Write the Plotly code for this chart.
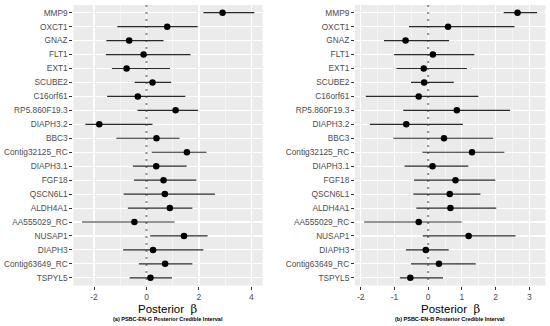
import plotly.graph_objects as go

genes = ["MMP9", "OXCT1", "GNAZ", "FLT1", "EXT1", "SCUBE2", "C16orf61",
         "RP5.860F19.3", "DIAPH3.2", "BBC3", "Contig32125_RC", "DIAPH3.1",
         "FGF18", "QSCN6L1", "ALDH4A1", "AA555029_RC", "NUSAP1", "DIAPH3",
         "Contig63649_RC", "TSPYL5"]

# Panel (a) PSBC-EN-G
a_mean = [2.90, 0.79, -0.66, -0.11, -0.76, 0.23, -0.33, 1.11, -1.80, 0.38,
          1.54, 0.37, 0.65, 0.70, 0.89, -0.46, 1.43, 0.25, 0.71, 0.15]
a_low = [2.17, -1.11, -1.53, -1.55, -1.32, -0.45, -1.50, -0.34, -2.33, -1.15,
         0.20, -0.52, -0.48, -0.87, -0.71, -2.46, 0.14, -0.89, -0.29, -0.64]
a_high = [4.11, 1.95, 0.65, 1.68, 0.90, 0.94, 1.48, 1.96, 0.23, 1.26,
          2.29, 1.53, 1.90, 2.61, 1.75, 1.07, 2.33, 2.17, 1.75, 0.97]

# Panel (b) PSBC-EN-B
b_mean = [2.65, 0.59, -0.67, 0.14, -0.13, -0.12, -0.28, 0.85, -0.65, 0.47,
          1.30, 0.13, 0.81, 0.64, 0.66, -0.28, 1.20, -0.07, 0.32, -0.53]
b_low = [2.24, -0.57, -1.31, -1.01, -0.94, -0.51, -1.85, -0.74, -1.73, -1.03,
         -0.17, -0.70, -0.42, -0.44, -0.35, -1.90, -0.16, -0.66, -0.51, -0.84]
b_high = [3.23, 2.56, 0.62, 1.37, 1.15, 0.76, 1.49, 2.43, 1.03, 1.93,
          2.26, 1.19, 1.99, 1.55, 2.02, 0.99, 2.59, 0.61, 1.41, 0.44]

a_ticks = [-2, 0, 2, 4]
b_ticks = [-2, -1, 0, 1, 2, 3]

W, H = 550, 326
FONT = "Liberation Sans, Arial, sans-serif"
TXT = "#4D4D4D"

fig = go.Figure()
rows = list(range(len(genes)))

def add_panel(mean, low, high, xa, ya):
    # dotted zero line
    fig.add_trace(go.Scatter(x=[0, 0], y=[-0.55, 19.55], mode="lines",
                             line=dict(color="#8c8c8c", width=2, dash="2px,5px"),
                             xaxis=xa, yaxis=ya, hoverinfo="skip", showlegend=False))
    xs, ys = [], []
    for i in rows:
        xs += [low[i], high[i], None]
        ys += [i, i, None]
    fig.add_trace(go.Scatter(x=xs, y=ys, mode="lines",
                             line=dict(color="#2a2a2a", width=1.2),
                             xaxis=xa, yaxis=ya, showlegend=False))
    fig.add_trace(go.Scatter(x=mean, y=rows, mode="markers",
                             marker=dict(color="black", size=6.5),
                             xaxis=xa, yaxis=ya, showlegend=False))

add_panel(a_mean, a_low, a_high, "x", "y")
add_panel(b_mean, b_low, b_high, "x2", "y2")

ydom = [1 - 285.5 / H, 1 - 5 / H]
xdom1 = [73.3 / W, 262.7 / W]
xdom2 = [355 / W, 545.5 / W]

common_x = dict(showgrid=True, gridcolor="white", gridwidth=1.1, zeroline=False,
                ticks="outside", ticklen=3, tickcolor="#333333", tickwidth=1,
                tickfont=dict(family=FONT, size=8.5, color=TXT), showline=False,
                fixedrange=True)
common_y = dict(showgrid=True, gridcolor="white", gridwidth=1.1, zeroline=False,
                ticks="outside", ticklen=3, tickcolor="#333333", tickwidth=1,
                tickfont=dict(family=FONT, size=8.3, color=TXT), showline=False,
                tickmode="array", tickvals=rows, ticktext=genes,
                range=[19.55, -0.55], domain=ydom, fixedrange=True)

fig.update_layout(
    width=W, height=H, margin=dict(l=0, r=0, t=0, b=0),
    paper_bgcolor="white", plot_bgcolor="#EBEBEB",
    xaxis=dict(common_x, domain=xdom1, range=[-2.79, 4.43], tickmode="array",
               tickvals=a_ticks, ticktext=[str(t) for t in a_ticks],
               minor=dict(dtick=2, tick0=-1, showgrid=True, gridcolor="white",
                          gridwidth=0.5, ticks=""), anchor="y"),
    yaxis=dict(common_y, anchor="x"),
    xaxis2=dict(common_x, domain=xdom2, range=[-2.17, 3.48], tickmode="array",
                tickvals=b_ticks, ticktext=[str(t) for t in b_ticks],
                minor=dict(dtick=1, tick0=-1.5, showgrid=True, gridcolor="white",
                           gridwidth=0.5, ticks=""), anchor="y2"),
    yaxis2=dict(common_y, anchor="x2"),
    showlegend=False,
)

beta = '<span style="font-family:DejaVu Serif, serif">\u03b2</span>'
for cx, sub in [((xdom1[0] + xdom1[1]) / 2, "(a) PSBC-EN-G Posterior Credible Interval"),
                ((xdom2[0] + xdom2[1]) / 2, "(b) PSBC-EN-B Posterior Credible Interval")]:
    fig.add_annotation(x=cx, y=1 - 308.5 / H, xref="paper", yref="paper",
                       text="Posterior\u00a0 " + beta, showarrow=False,
                       xanchor="center", yanchor="middle",
                       font=dict(family=FONT, size=11.5, color="black"))
    fig.add_annotation(x=cx, y=1 - 318.5 / H, xref="paper", yref="paper",
                       text="<b>" + sub + "</b>", showarrow=False,
                       xanchor="center", yanchor="middle",
                       font=dict(family=FONT, size=5.5, color="black"))

fig.write_html("out.html", config={"displayModeBar": False, "staticPlot": True},
               post_script="document.body.style.margin='0';document.body.style.overflow='hidden';")
